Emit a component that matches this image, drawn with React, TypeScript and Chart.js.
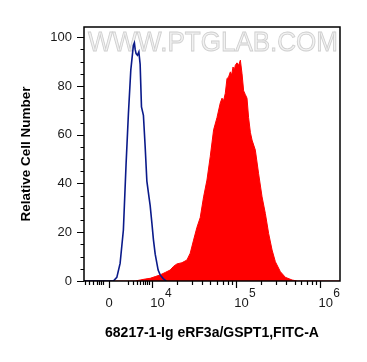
import React, { useEffect, useRef } from 'react';
import { Chart, registerables } from 'chart.js';

Chart.register(...registerables);

// Axis ranges in display units (biexponential display: 10^k -> k)
const X_MIN = 3.196;
const X_MAX = 6.238;
const Y_MIN = 0;
const Y_MAX = 104.2;

const xMajorTicks = [3.494, 4, 5, 6];
const xMajorBase = ['0', '10', '10', '10'];
const xMajorExp = ['', '4', '5', '6'];
const xMinorTicks = [
  3.208, 3.256, 3.304, 3.351, 3.375, 3.399, 3.423,
  3.724, 3.776, 3.824, 3.863, 3.895, 3.923, 3.95, 3.974,
  4.301, 4.477, 4.602, 4.699, 4.778, 4.845, 4.903, 4.954,
  5.301, 5.477, 5.602, 5.699, 5.778, 5.845, 5.903, 5.954,
];
const yMajorTicks = [0, 20, 40, 60, 80, 100];
const yMinorTicks = [5, 10, 15, 25, 30, 35, 45, 50, 55, 65, 70, 75, 85, 90, 95];

const xTitle = '68217-1-Ig eRF3a/GSPT1,FITC-A';
const yTitle = 'Relative Cell Number';
const watermark = 'WWW.PTGLAB.COM';

// Isotype control (blue line)
const blueX = [3.196, 3.5, 3.545, 3.586, 3.625, 3.664, 3.696, 3.724, 3.752, 3.783, 3.795, 3.804, 3.815, 3.831, 3.848, 3.863, 3.879, 3.902, 3.923, 3.943, 3.970, 3.982, 4.002, 4.021, 4.042, 4.077, 4.101, 4.137, 4.173];
const blueY = [0, 0, 0, 1.5, 7.2, 20.9, 48, 68.8, 86.5, 96.7, 97.7, 95, 93.3, 92.6, 94, 89, 71.4, 68, 55, 41, 34, 31, 24, 17, 11, 4.5, 2.5, 1, 0];

// Stained sample (red filled)
const redX = [3.196, 3.804, 3.863, 3.923, 3.982, 4.042, 4.101, 4.161, 4.220, 4.260, 4.300, 4.360, 4.419, 4.458, 4.498, 4.538, 4.577, 4.617, 4.657, 4.696, 4.736, 4.776, 4.815, 4.836, 4.855, 4.875, 4.895, 4.914, 4.935, 4.950, 4.967, 4.982, 4.994, 5.014, 5.033, 5.054, 5.074, 5.093, 5.113, 5.133, 5.152, 5.173, 5.193, 5.232, 5.271, 5.312, 5.351, 5.390, 5.431, 5.470, 5.530, 5.589, 5.669, 5.729, 6.238];
const redY = [0, 0, 0.4, 0.8, 1.1, 1.8, 2.5, 3.5, 4.5, 6, 7, 7.5, 8.6, 11.4, 16.8, 22, 26, 34.5, 41.4, 51, 62, 67, 73, 75, 74, 77, 83, 83.7, 85.8, 84.5, 87.8, 86.5, 88.5, 89.5, 88.5, 90.6, 85, 78, 76.5, 75, 67, 61, 57.8, 53.7, 44, 34.5, 27.7, 19.5, 12.7, 7.9, 3.8, 1.5, 0.4, 0, 0];

const FONT = '"Liberation Sans", Arial, Helvetica, sans-serif';

const decorPlugin = {
  id: 'decor',
  beforeDatasetsDraw(chart: any) {
    const { ctx, chartArea } = chart;
    ctx.save();
    ctx.font = `28px ${FONT}`;
    ctx.textAlign = 'left';
    ctx.textBaseline = 'middle';
    const w = ctx.measureText(watermark).width;
    const targetW = 250;
    const cx = (chartArea.left + chartArea.right) / 2 + 1;
    ctx.translate(cx - targetW / 2, 43);
    ctx.scale(targetW / w, 1);
    ctx.fillStyle = '#f2f2f2';
    ctx.fillText(watermark, 0, 0);
    ctx.strokeStyle = '#cfcfcf';
    ctx.lineWidth = 0.9;
    ctx.strokeText(watermark, 0, 0);
    ctx.restore();
  },
  afterDraw(chart: any) {
    const { ctx, chartArea, scales } = chart;
    const { left, right, top, bottom } = chartArea;
    const xs = scales.x;
    const ys = scales.y;
    ctx.save();
    ctx.strokeStyle = '#000';
    ctx.lineWidth = 1.5;
    ctx.strokeRect(left, top, right - left, bottom - top);
    ctx.lineWidth = 1.2;
    ctx.beginPath();
    yMajorTicks.forEach((v) => {
      const p = Math.round(ys.getPixelForValue(v)) + 0.5;
      ctx.moveTo(left - 7, p);
      ctx.lineTo(left, p);
    });
    yMinorTicks.forEach((v) => {
      const p = Math.round(ys.getPixelForValue(v)) + 0.5;
      ctx.moveTo(left - 3.5, p);
      ctx.lineTo(left, p);
    });
    xMajorTicks.forEach((v) => {
      const p = Math.round(xs.getPixelForValue(v)) + 0.5;
      ctx.moveTo(p, bottom);
      ctx.lineTo(p, bottom + 7);
    });
    xMinorTicks.forEach((v) => {
      const p = Math.round(xs.getPixelForValue(v)) + 0.5;
      ctx.moveTo(p, bottom);
      ctx.lineTo(p, bottom + 4);
    });
    ctx.stroke();

    ctx.fillStyle = '#1a1a1a';
    ctx.textBaseline = 'middle';
    xMajorTicks.forEach((v, i) => {
      const p = xs.getPixelForValue(v);
      ctx.font = `13px ${FONT}`;
      if (!xMajorExp[i]) {
        ctx.textAlign = 'center';
        ctx.fillText(xMajorBase[i], p, 303.5);
      } else {
        ctx.textAlign = 'left';
        const bx = p - 1.5;
        ctx.fillText(xMajorBase[i], bx, 303.5);
        const bw = ctx.measureText(xMajorBase[i]).width;
        ctx.font = `12px ${FONT}`;
        ctx.fillText(xMajorExp[i], bx + bw + 0.3, 293.5);
      }
    });
    ctx.restore();
  },
};

export default function App() {
  const canvasRef = useRef<HTMLCanvasElement | null>(null);

  useEffect(() => {
    document.body.style.margin = '0';
    const canvas = canvasRef.current;
    if (!canvas) return;
    Chart.defaults.font.family = FONT;
    const chart = new Chart(canvas, {
      type: 'line',
      data: {
        datasets: [
          {
            label: 'Isotype',
            data: blueX.map((x, i) => ({ x, y: blueY[i] })),
            borderColor: '#0a1a8a',
            borderWidth: 1.6,
            pointRadius: 0,
            fill: false,
            tension: 0,
          },
          {
            label: 'Sample',
            data: redX.map((x, i) => ({ x, y: redY[i] })),
            borderColor: '#ff0000',
            backgroundColor: '#ff0000',
            borderWidth: 1,
            pointRadius: 0,
            fill: 'origin',
            tension: 0,
          },
        ],
      },
      options: {
        animation: false,
        responsive: false,
        devicePixelRatio: 1,
        layout: { padding: { left: 0, top: 27, right: 27, bottom: 0 } },
        plugins: { legend: { display: false }, tooltip: { enabled: false } },
        scales: {
          x: {
            type: 'linear',
            min: X_MIN,
            max: X_MAX,
            grid: { display: false },
            border: { display: false },
            ticks: { display: false },
            afterBuildTicks: (s: any) => {
              s.ticks = xMajorTicks.map((value) => ({ value }));
            },
            afterFit: (s: any) => {
              s.height = 81;
            },
            title: {
              display: true,
              text: xTitle,
              color: '#000',
              font: { size: 14, weight: 'bold', family: FONT },
              padding: { top: 0, bottom: 20.6 },
            },
          },
          y: {
            type: 'linear',
            min: Y_MIN,
            max: Y_MAX,
            grid: { display: false, drawTicks: true, tickLength: 7 },
            border: { display: false },
            afterBuildTicks: (s: any) => {
              s.ticks = yMajorTicks.map((value) => ({ value }));
            },
            ticks: {
              color: '#1a1a1a',
              padding: 5,
              font: { size: 13, family: FONT },
              callback: (v: any) => String(v),
            },
            afterFit: (s: any) => {
              s.width = 84;
            },
            title: {
              display: true,
              text: yTitle,
              color: '#000',
              font: { size: 13.5, weight: 'bold', family: FONT },
              padding: { top: 17.9, bottom: 0 },
            },
          },
        },
      },
      plugins: [decorPlugin],
    });
    return () => chart.destroy();
  }, []);

  return (
    <div style={{ position: 'absolute', left: 0, top: 0, width: 367, height: 362, background: '#fff' }}>
      <canvas ref={canvasRef} width={367} height={362} style={{ display: 'block' }} />
    </div>
  );
}
